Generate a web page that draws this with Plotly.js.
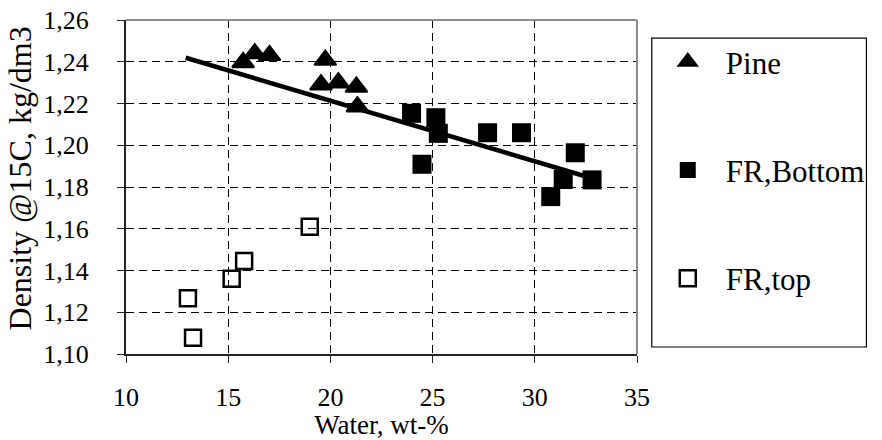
<!DOCTYPE html>
<html>
<head>
<meta charset="utf-8">
<script src="https://cdn.plot.ly/plotly-3.0.1.min.js"></script>
<style>
html,body{margin:0;padding:0;background:#fff;}
#chart{width:882px;height:440px;}
</style>
</head>
<body>
<div id="chart"></div>
<script>
// ---- data ----
var waterPine = [15.73, 16.3, 17.02, 19.75, 19.54, 20.39, 21.27, 21.32];
var densityPine = [1.2397, 1.2439, 1.2431, 1.2408, 1.229, 1.230, 1.2279, 1.2185];

var waterBottom = [23.97, 24.48, 25.16, 25.28, 27.69, 29.35, 31.98, 31.39, 30.78, 32.8];
var densityBottom = [1.2153, 1.1909, 1.2132, 1.2057, 1.206, 1.206, 1.1964, 1.1836, 1.1754, 1.1834];

var waterTop = [18.99, 15.78, 15.17, 13.03, 13.28];
var densityTop = [1.161, 1.1446, 1.1361, 1.1267, 1.1078];

var trendWater = [12.92, 32.8];
var trendDensity = [1.2419, 1.1842];

var xTicks = [10, 15, 20, 25, 30, 35];
var yTicks = [1.10, 1.12, 1.14, 1.16, 1.18, 1.20, 1.22, 1.24, 1.26];

var seriesNames = ['Pine', 'FR,Bottom', 'FR,top'];
var xTitle = 'Water, wt-%';
var yTitle = 'Density @15C, kg/dm3';

var FONT = 'Liberation Serif, Times New Roman, serif';

var traces = [
  {
    x: trendWater, y: trendDensity, mode: 'lines', showlegend: false,
    line: {color: '#000', width: 4.5}, hoverinfo: 'skip'
  },
  {
    x: waterPine, y: densityPine, mode: 'markers', name: seriesNames[0], legendgroup: 'a',
    marker: {symbol: 'triangle-up', size: 19, color: '#000', line: {color: '#000', width: 2}}
  },
  {
    x: waterBottom, y: densityBottom, mode: 'markers', name: seriesNames[1], legendgroup: 'b',
    marker: {symbol: 'square', size: 19, color: '#000', line: {width: 0}}
  },
  {
    x: waterTop, y: densityTop, mode: 'markers', name: seriesNames[2], legendgroup: 'c',
    marker: {symbol: 'square-open', size: 16, color: '#000', line: {color: '#000', width: 2.5}}
  }
];

var layout = {
  width: 882, height: 440,
  margin: {l: 126, r: 237, t: 20, b: 86, pad: 0},
  paper_bgcolor: '#fff', plot_bgcolor: '#fff',
  separators: ', ',
  font: {family: FONT, color: '#000', size: 26},
  showlegend: true,
  xaxis: {
    range: [10, 35], tickmode: 'array', tickvals: xTicks,
    showgrid: true, gridcolor: '#000', gridwidth: 1, griddash: '8px,5px',
    showline: true, linecolor: '#222', linewidth: 2,
    ticks: 'outside', ticklen: 7, tickcolor: '#222', tickwidth: 1,
    ticklabelstandoff: 12,
    tickfont: {family: FONT, size: 26, color: '#000'},
    zeroline: false, automargin: false,
    title: {text: xTitle, font: {family: FONT, size: 27, color: '#000'}, standoff: 13}
  },
  yaxis: {
    range: [1.10, 1.26], tickmode: 'array', tickvals: yTicks, tickformat: '.2f',
    showgrid: true, gridcolor: '#000', gridwidth: 1, griddash: '8px,5px',
    showline: true, linecolor: '#222', linewidth: 2,
    ticks: 'outside', ticklen: 7, tickcolor: '#222', tickwidth: 1,
    ticklabelstandoff: 23,
    tickfont: {family: FONT, size: 26, color: '#000'},
    zeroline: false, automargin: false
  },
  annotations: [
    {
      text: yTitle, textangle: -90, showarrow: false,
      xref: 'paper', yref: 'paper', x: -0.2065, y: 0.527,
      xanchor: 'center', yanchor: 'middle',
      font: {family: FONT, size: 32, color: '#000'}
    }
  ],
  legend: {
    x: 1.025, xanchor: 'left', y: 0.955, yanchor: 'top',
    bgcolor: 'rgba(0,0,0,0)', borderwidth: 0,
    font: {family: FONT, size: 31, color: '#000'},
    itemwidth: 66, tracegroupgap: 65, traceorder: 'grouped'
  },
  shapes: [
    {type: 'line', xref: 'paper', yref: 'paper', x0: 0, x1: 1, y0: 1, y1: 1, line: {color: '#8c8c8c', width: 2}},
    {type: 'line', xref: 'paper', yref: 'paper', x0: 1, x1: 1, y0: 0, y1: 1, line: {color: '#8c8c8c', width: 2}},
    {type: 'rect', xref: 'paper', yref: 'paper', x0: 1.0289, x1: 1.449, y0: 0.021, y1: 0.946, line: {color: '#000', width: 1.2}, fillcolor: 'rgba(0,0,0,0)'}
  ]
};

Plotly.newPlot('chart', traces, layout, {displayModeBar: false, staticPlot: true});
</script>
</body>
</html>
